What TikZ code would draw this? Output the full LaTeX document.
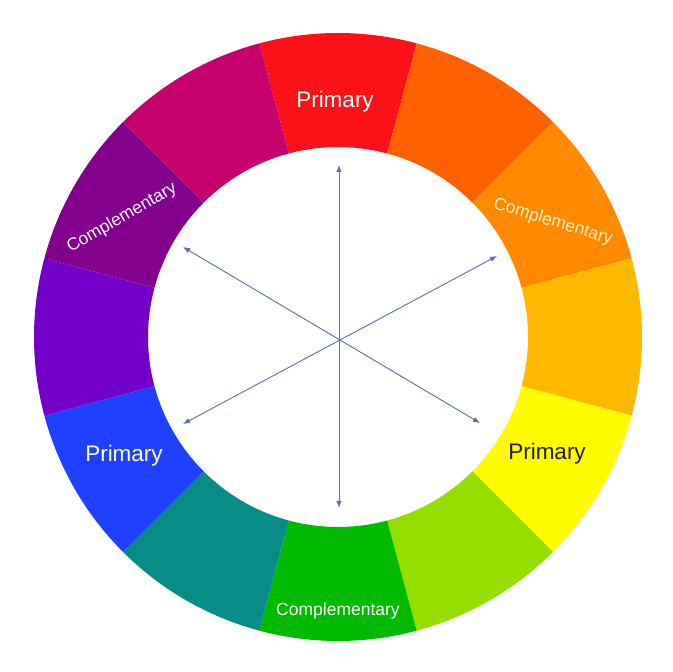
\documentclass[tikz,border=0pt]{standalone}
\usepackage{fontspec}
\setmainfont{Liberation Sans}
\usetikzlibrary{arrows.meta}
\definecolor{cRed}{RGB}{250,18,24}
\definecolor{cRedOrange}{RGB}{255,96,0}
\definecolor{cOrange}{RGB}{255,138,0}
\definecolor{cYelOrange}{RGB}{255,186,0}
\definecolor{cYellow}{RGB}{255,252,0}
\definecolor{cYelGreen}{RGB}{150,222,0}
\definecolor{cGreen}{RGB}{0,186,0}
\definecolor{cTeal}{RGB}{8,140,136}
\definecolor{cBlue}{RGB}{32,64,255}
\definecolor{cViolet}{RGB}{114,0,200}
\definecolor{cPurple}{RGB}{130,0,140}
\definecolor{cMagenta}{RGB}{198,0,108}
\definecolor{arrowcol}{RGB}{85,115,165}
\definecolor{darktext}{RGB}{30,30,30}
\tikzset{
  seglabel/.style={font=\fontsize{22.5}{26}\selectfont, text=white, inner sep=0pt},
  complabel/.style={font=\fontsize{17.5}{20}\selectfont, text=white, inner sep=0pt},
  dblarrow/.style={draw=arrowcol, line width=0.9pt, {Latex[length=7pt,width=5.5pt]}-{Latex[length=7pt,width=5.5pt]}}
}
\begin{document}
\begin{tikzpicture}[x=1pt,y=1pt]
\useasboundingbox (0,0) rectangle (672,672);
\fill[white] (0,0) rectangle (672,672);
\coordinate (C) at (338,335);
\def\Rout{304}
\def\Rin{190}
\begin{scope}[shift={(C)}]
\foreach \col/\a in {cRed/75, cRedOrange/45, cOrange/15, cYelOrange/-15, cYellow/-45, cYelGreen/-75, cGreen/-105, cTeal/-135, cBlue/-165, cViolet/165, cPurple/135, cMagenta/105}{
  \fill[\col] (\a:\Rout) arc[start angle=\a, end angle=\a+30, radius=\Rout]
     -- (\a+30:\Rin) arc[start angle=\a+30, end angle=\a, radius=\Rin] -- cycle;
}
\end{scope}
% labels
\node[seglabel] (pred) at (335,570) {Primary};
\node[seglabel] (pblue) at (124,216) {Primary};
\node[seglabel, text=darktext] (pyel) at (547,218) {Primary};
\node[complabel] (cgreen) at (338,61) {Complementary};
\node[complabel, rotate=30] (cpurple) at (122,454) {Complementary};
\node[complabel, rotate=-17, text={rgb,255:red,255;green,240;blue,200}] (corange) at (553,450) {Complementary};
% arrows
\coordinate (tT) at (339,507);
\coordinate (tB) at (339,164);
\coordinate (tUL) at (183,425);
\coordinate (tBR) at (480,249);
\coordinate (tUR) at (497,416);
\coordinate (tBL) at (183,248);
\draw[dblarrow] (tB) -- (tT);
\draw[dblarrow] (tUL) -- (tBR);
\draw[dblarrow] (tBL) -- (tUR);
\end{tikzpicture}
\end{document}
